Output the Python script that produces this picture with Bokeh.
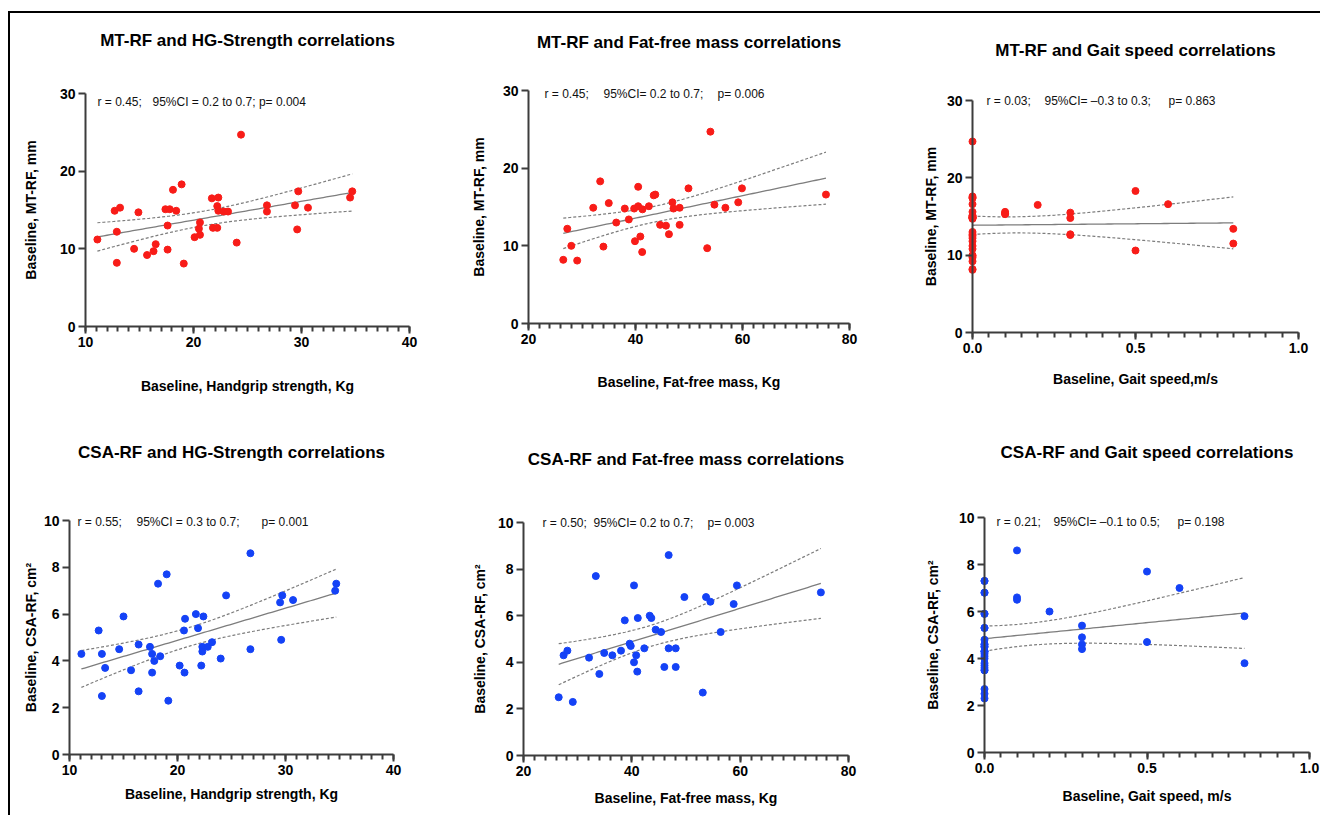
import math
import numpy as np
from bokeh.plotting import figure
from bokeh.models import Range1d, FixedTicker, Label, Spacer, NumeralTickFormatter
from bokeh.layouts import row, column
from bokeh.embed import file_html
from bokeh.resources import INLINE

# ---------------- data ----------------
hg_p1 = [11.1, 12.7, 13.2, 12.9, 12.9, 14.5, 14.9, 15.7, 16.3, 16.5, 17.4, 17.8, 17.6, 17.6, 18.1,
         18.4, 18.9, 19.1, 20.1, 20.5, 20.6, 20.6, 21.7, 21.8, 22.2, 22.2, 22.3, 22.3, 22.8, 23.2,
         24.0, 24.4, 26.8, 26.8, 29.4, 29.6, 29.7, 30.6, 34.5, 34.7]
mt_p1 = [11.2, 14.9, 15.3, 12.2, 8.2, 10.0, 14.7, 9.2, 9.7, 10.6, 15.1, 15.1, 13.0, 9.9, 17.6,
         14.9, 18.3, 8.1, 11.5, 12.6, 13.4, 11.8, 16.5, 12.7, 12.7, 15.5, 14.9, 16.6, 14.8, 14.8,
         10.8, 24.7, 15.6, 14.8, 15.6, 12.5, 17.4, 15.3, 16.6, 17.4]

ffm_p2 = [26.5, 27.25, 28.0, 29.1, 32.1, 33.4, 34.0, 35.0, 36.4, 38.0, 38.75, 39.75, 39.9, 40.5,
          40.5, 40.9, 41.25, 41.3, 42.5, 43.4, 43.7, 44.6, 45.7, 46.25, 46.9, 47.1, 48.25, 48.25,
          49.9, 53.4, 54.0, 54.75, 56.8, 59.2, 59.9, 75.6]
mt_p2 = [8.2, 12.2, 10.0, 8.1, 14.9, 18.3, 9.9, 15.5, 13.0, 14.8, 13.4, 14.8, 10.6, 15.1,
         17.6, 11.2, 9.2, 14.7, 15.1, 16.5, 16.6, 12.7, 12.6, 11.5, 15.6, 14.8, 14.9, 12.7,
         17.4, 9.7, 24.7, 15.3, 14.9, 15.6, 17.4, 16.6]

gait_p3 = [0.0, 0.0, 0.0, 0.0, 0.0, 0.0, 0.0, 0.0, 0.0, 0.0, 0.0, 0.0, 0.0, 0.0, 0.0, 0.0, 0.0,
           0.0, 0.0, 0.0, 0.0, 0.0, 0.0, 0.0, 0.0, 0.0, 0.0,
           0.1, 0.1, 0.1, 0.2, 0.3, 0.3, 0.3, 0.3, 0.5, 0.5, 0.6, 0.8, 0.8]
mt_p3 = [8.1, 8.2, 9.2, 9.7, 9.9, 10.0, 10.8, 11.2, 11.8, 12.2, 12.5, 12.7, 13.0, 14.7, 14.8,
         14.8, 14.9, 14.9, 14.9, 15.1, 15.1, 15.6, 16.6, 17.4, 17.4, 17.6, 24.7,
         15.6, 15.4, 15.3, 16.5, 15.5, 14.8, 12.7, 12.6, 18.3, 10.6, 16.6, 13.4, 11.5]

hg_p4 = [11.1, 12.7, 13.0, 13.0, 13.3, 14.6, 15.0, 15.7, 16.4, 16.4, 17.45, 17.65, 17.65, 17.85,
         18.2, 18.4, 19.0, 19.15, 20.2, 20.6, 20.65, 20.7, 21.7, 21.9, 22.2, 22.3, 22.3, 22.4,
         22.8, 23.2, 24.0, 24.5, 26.75, 26.75, 29.5, 29.6, 29.7, 30.7, 34.6, 34.7]
csa_p4 = [4.3, 5.3, 4.3, 2.5, 3.7, 4.5, 5.9, 3.6, 2.7, 4.7, 4.6, 4.3, 3.5, 4.0,
          7.3, 4.2, 7.7, 2.3, 3.8, 5.3, 3.5, 5.8, 6.0, 5.4, 3.8, 4.6, 4.4, 5.9,
          4.6, 4.8, 4.1, 6.8, 8.6, 4.5, 6.5, 4.9, 6.8, 6.6, 7.0, 7.3]

ffm_p5 = [26.5, 27.4, 28.1, 29.1, 32.1, 33.35, 34.0, 34.9, 36.4, 38.0, 38.7, 39.6, 39.8, 40.4,
          40.4, 40.8, 41.0, 41.1, 42.3, 43.3, 43.6, 44.4, 45.4, 46.0, 46.8, 46.8, 48.1, 48.1,
          49.7, 53.1, 53.7, 54.5, 56.4, 58.8, 59.4, 74.9]
csa_p5 = [2.5, 4.3, 4.5, 2.3, 4.2, 7.7, 3.5, 4.4, 4.3, 4.5, 5.8, 4.8, 4.7, 4.0,
          7.3, 4.3, 3.6, 5.9, 4.6, 6.0, 5.9, 5.4, 5.3, 3.8, 8.6, 4.6, 4.6, 3.8,
          6.8, 2.7, 6.8, 6.6, 5.3, 6.5, 7.3, 7.0]

gait_p6 = [0.0, 0.0, 0.0, 0.0, 0.0, 0.0, 0.0, 0.0, 0.0, 0.0, 0.0, 0.0, 0.0, 0.0, 0.0, 0.0, 0.0,
           0.0, 0.0, 0.0, 0.0, 0.0, 0.0, 0.0, 0.0, 0.0, 0.0,
           0.1, 0.1, 0.1, 0.2, 0.3, 0.3, 0.3, 0.3, 0.5, 0.5, 0.6, 0.8, 0.8]
csa_p6 = [2.3, 2.5, 2.7, 3.5, 3.5, 3.6, 3.7, 3.8, 4.0, 4.1, 4.2, 4.3, 4.3, 4.3, 4.5, 4.5, 4.6,
          4.6, 4.8, 5.3, 5.3, 5.9, 5.9, 6.8, 6.8, 7.3, 7.3,
          8.6, 6.6, 6.5, 6.0, 5.4, 4.9, 4.6, 4.4, 7.7, 4.7, 7.0, 5.8, 3.8]

titles = ["MT-RF and HG-Strength correlations", "MT-RF and Fat-free mass correlations",
          "MT-RF and Gait speed correlations", "CSA-RF and HG-Strength correlations",
          "CSA-RF and Fat-free mass correlations", "CSA-RF and Gait speed correlations"]
x_labels = ["Baseline, Handgrip strength, Kg", "Baseline, Fat-free mass, Kg", "Baseline, Gait speed,m/s",
            "Baseline, Handgrip strength, Kg", "Baseline, Fat-free mass, Kg", "Baseline, Gait speed, m/s"]
y_labels = ["Baseline, MT-RF, mm"] * 3 + ["Baseline, CSA-RF, cm\u00b2"] * 3
stats_text = [
    ["r = 0.45;", "95%CI = 0.2 to 0.7; p= 0.004"],
    ["r = 0.45;", "95%CI= 0.2 to 0.7;", "p= 0.006"],
    ["r = 0.03;", "95%CI= \u20130.3 to 0.3;", "p= 0.863"],
    ["r = 0.55;", "95%CI = 0.3 to 0.7;", "p= 0.001"],
    ["r = 0.50;", "95%CI= 0.2 to 0.7;", "p= 0.003"],
    ["r = 0.21;", "95%CI= \u20130.1 to 0.5;", "p= 0.198"],
]
hg_ticks = [10, 20, 30, 40]
ffm_ticks = [20, 40, 60, 80]
gait_ticks = [0.0, 0.5, 1.0]
mt_ticks = [0, 10, 20, 30]
csa_ticks = [0, 2, 4, 6, 8, 10]

# ---------------- styling / layout ----------------
FONT = "Liberation Sans"
AXIS_COLOR = "#3c3c3c"
FIT_COLOR = "#7d7d7d"
RED = "#f81c18"
BLUE = "#1442f6"
T_CRIT = 2.03


def fit_band(x, y):
    x = np.asarray(x, float)
    y = np.asarray(y, float)
    n = len(x)
    b, a = np.polyfit(x, y, 1)
    s = np.sqrt(((y - (a + b * x)) ** 2).sum() / (n - 2))
    xm = x.mean()
    sxx = ((x - xm) ** 2).sum()
    xs = np.linspace(x.min(), x.max(), 80)
    yf = a + b * xs
    half = T_CRIT * s * np.sqrt(1.0 / n + (xs - xm) ** 2 / sxx)
    return xs, yf, yf - half, yf + half


def make_panel(i, x, y, color, xticks, minor_step, yticks, gait, L, RW):
    fx, fw = L["fx"], L["fw"]
    fy, fh = RW
    X0, X1, Y0, Y1 = L["px"]
    xa0, xa1 = xticks[0], xticks[-1]
    ya0, ya1 = yticks[0], yticks[-1]
    sx = (X1 - X0) / (xa1 - xa0)
    sy = (Y0 - Y1) / (ya1 - ya0)
    # the frame fills the whole figure; ranges map the axis ends onto the reference pixels
    p = figure(width=fw, height=fh, title=None,
               x_range=Range1d(xa0 - (X0 - fx) / sx, xa1 + (fx + fw - X1) / sx),
               y_range=Range1d(ya0 - (fy + fh - Y0) / sy, ya1 + (Y1 - fy) / sy),
               min_border_left=0, min_border_right=0, min_border_top=0, min_border_bottom=0,
               output_backend="svg", toolbar_location=None,
               background_fill_color="white", border_fill_color="white")
    p.outline_line_color = None
    p.xgrid.visible = False
    p.ygrid.visible = False

    n_minor = int(round((xa1 - xa0) / minor_step))
    minors = [xa0 + k * minor_step for k in range(n_minor + 1)]
    p.xaxis.ticker = FixedTicker(ticks=xticks, minor_ticks=minors)
    p.xaxis.bounds = (xa0, xa1)
    p.xaxis.fixed_location = ya0
    p.yaxis.ticker = FixedTicker(ticks=yticks, minor_ticks=[])
    p.yaxis.bounds = (ya0, ya1)
    p.yaxis.fixed_location = xa0
    if gait:
        p.xaxis.formatter = NumeralTickFormatter(format="0.0")
    for ax in (p.xaxis[0], p.yaxis[0]):
        ax.axis_line_color = AXIS_COLOR
        ax.axis_line_width = 2
        ax.major_tick_line_color = AXIS_COLOR
        ax.major_tick_line_width = 2
        ax.minor_tick_line_color = AXIS_COLOR
        ax.minor_tick_line_width = 2
        ax.major_tick_in = 0
        ax.major_tick_out = 7
        ax.minor_tick_in = 0
        ax.minor_tick_out = 5
        ax.major_label_text_font = FONT
        ax.major_label_text_font_size = "14px"
        ax.major_label_text_font_style = "bold"
        ax.major_label_text_color = "black"
        ax.major_label_standoff = 3

    xs, yf, lo, hi = fit_band(x, y)
    p.line(xs, hi, line_color=FIT_COLOR, line_width=1.2, line_dash="3 2")
    p.line(xs, lo, line_color=FIT_COLOR, line_width=1.2, line_dash="3 2")
    p.line(xs, yf, line_color=FIT_COLOR, line_width=1.3)
    p.scatter(x, y, size=7, fill_color=color, line_color=color)

    # panel title, centred over the plotting area
    p.add_layout(Label(x=(xa0 + xa1) / 2, y=ya1, y_offset=Y1 - L["tc"],
                       text=titles[i], text_align="center", text_baseline="middle",
                       text_font=FONT, text_font_size="17px", text_font_style="bold",
                       text_color="black"))
    # axis titles
    p.add_layout(Label(x=(xa0 + xa1) / 2, y=ya0, y_offset=-(L["xlc"] - Y0),
                       text=x_labels[i], text_align="center", text_baseline="middle",
                       text_font=FONT, text_font_size="14px", text_font_style="bold",
                       text_color="black"))
    p.add_layout(Label(x=xa0, y=(ya0 + ya1) / 2, x_offset=L["ylc"] - X0, angle=math.pi / 2,
                       text=y_labels[i], text_align="center", text_baseline="middle",
                       text_font=FONT, text_font_size="14px", text_font_style="bold",
                       text_color="black"))
    # statistics line
    for txt, sxp in zip(stats_text[i], L["sx"]):
        p.add_layout(Label(x=xa0, y=ya1, x_offset=sxp - X0, y_offset=-(L["sy"] - Y1),
                           text=txt, text_baseline="middle", text_align="left",
                           text_font=FONT, text_font_size="12px", text_color="#111111"))
    return p


# rows: (figure top, figure height)
ROW1 = (13, 397)
ROW2 = (410, 405)
layouts = [
    dict(fx=10, fw=430, px=(85, 409, 326, 93), tc=40, xlc=385, ylc=30,
         sx=[97, 152], sy=101),
    dict(fx=440, fw=450, px=(528, 849, 323, 90), tc=42, xlc=381, ylc=478,
         sx=[544, 603, 717], sy=93),
    dict(fx=890, fw=430, px=(972, 1298, 332, 100), tc=50, xlc=378, ylc=930,
         sx=[986, 1044, 1168], sy=100),
    dict(fx=10, fw=430, px=(69, 393, 754, 520), tc=452, xlc=793, ylc=30,
         sx=[77, 136, 261], sy=521),
    dict(fx=440, fw=450, px=(523, 848, 755, 522), tc=459, xlc=797, ylc=479,
         sx=[542, 593, 707], sy=522),
    dict(fx=890, fw=430, px=(984, 1309, 752, 517), tc=452, xlc=795, ylc=932,
         sx=[996, 1053, 1177], sy=521),
]

p1 = make_panel(0, hg_p1, mt_p1, RED, hg_ticks, 1, mt_ticks, False, layouts[0], ROW1)
p2 = make_panel(1, ffm_p2, mt_p2, RED, ffm_ticks, 2, mt_ticks, False, layouts[1], ROW1)
p3 = make_panel(2, gait_p3, mt_p3, RED, gait_ticks, 0.05, mt_ticks, True, layouts[2], ROW1)
p4 = make_panel(3, hg_p4, csa_p4, BLUE, hg_ticks, 1, csa_ticks, False, layouts[3], ROW2)
p5 = make_panel(4, ffm_p5, csa_p5, BLUE, ffm_ticks, 2, csa_ticks, False, layouts[4], ROW2)
p6 = make_panel(5, gait_p6, csa_p6, BLUE, gait_ticks, 0.05, csa_ticks, True, layouts[5], ROW2)

H = ROW1[1] + ROW2[1]
top_gap = Spacer(width=1320, height=11)
top_line = row(Spacer(width=8, height=2),
               Spacer(width=1312, height=2, styles={"background-color": "black"}))
left_line = Spacer(width=2, height=H, styles={"background-color": "black"})
grid = column(row(p1, p2, p3), row(p4, p5, p6))
layout = column(top_gap, top_line, row(Spacer(width=8, height=H), left_line, grid))

open("out.html", "w").write(file_html(layout, INLINE))
